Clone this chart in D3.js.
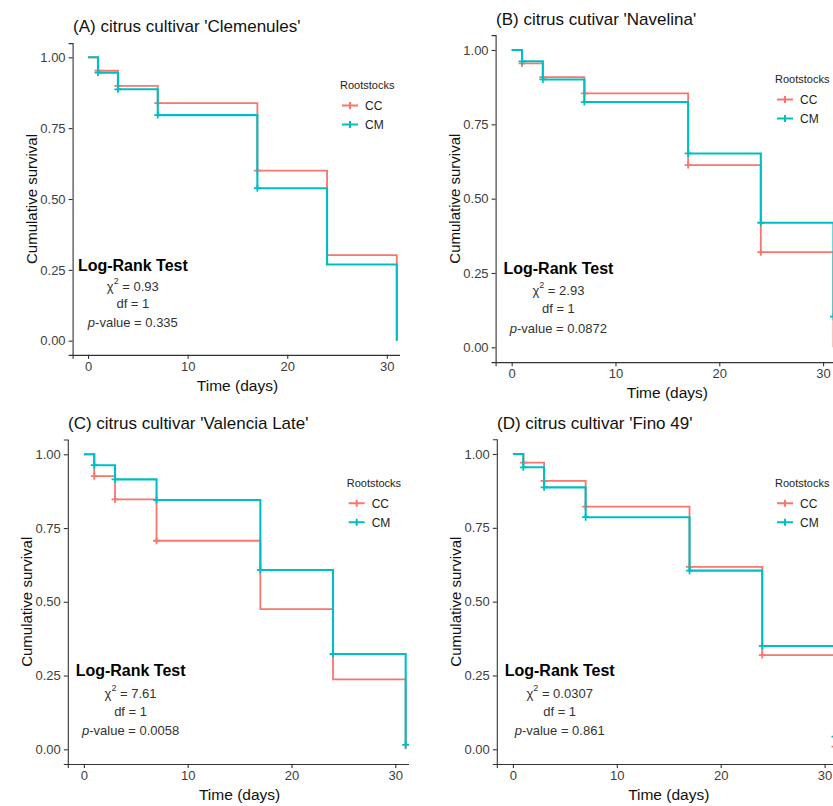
<!DOCTYPE html>
<html>
<head>
<meta charset="utf-8">
<script src="https://cdn.jsdelivr.net/npm/d3@7/dist/d3.min.js"></script>
<style>
  body { margin: 0; background: #fff; }
  svg { font-family: "Liberation Sans", Arial, sans-serif; }
</style>
</head>
<body>
<svg id="chart" width="833" height="806"></svg>
<script>
"use strict";

// event times shared by every panel
const times = [0, 1, 3, 7, 17, 24, 31];
const groups = ["CC", "CM"];
const colors = { "CC": "#F8766D", "CM": "#00BFC4" };
const yTicks = [0, 0.25, 0.5, 0.75, 1];
const xTicks = [0, 10, 20, 30];

const titles = [
    "(A) citrus cultivar 'Clemenules'",
    "(B) citrus cutivar 'Navelina'",
    "(C) citrus cultivar 'Valencia Late'",
    "(D) citrus cultivar 'Fino 49'"
];

// survival estimates
const survCC = [
    [1, 0.953, 0.899, 0.838, 0.600, 0.302, 0],
    [1, 0.955, 0.909, 0.854, 0.613, 0.320, 0],
    [1, 0.926, 0.847, 0.707, 0.475, 0.237, 0],
    [1, 0.971, 0.909, 0.822, 0.618, 0.319, 0.009]
];
const survCM = [
    [1, 0.946, 0.887, 0.796, 0.538, 0.269, 0],
    [1, 0.962, 0.901, 0.825, 0.652, 0.419, 0.103],
    [1, 0.963, 0.915, 0.845, 0.608, 0.323, 0.015],
    [1, 0.955, 0.887, 0.786, 0.605, 0.350, 0.043]
];
// times where a "+" censor mark sits
const censorCC = [[1, 3, 7, 17], [1, 3, 7, 17, 24], [1, 3, 7], [1, 3, 7, 17, 24, 31]];
const censorCM = [[1, 3, 7, 17], [1, 3, 7, 17, 24, 31], [1, 3, 7, 17, 24, 31], [1, 3, 7, 17, 24, 31]];

const chiSq = ["0.93", "2.93", "7.61", "0.0307"];
const pValues = ["0.335", "0.0872", "0.0058", "0.861"];

// panel geometry (pixels)
const panels = [
    { left: 72.6, perDay: 9.96, y0: 340.7, unit: 283.4, crop: 400, title: [73, 32], legend: [340, 89] },
    { left: 495.6, perDay: 10.38, y0: 347.3, unit: 297.3, crop: 840, title: [496, 25], legend: [775, 83] },
    { left: 67.8, perDay: 10.38, y0: 749.3, unit: 295, crop: 409, title: [68, 429], legend: [346.7, 486.7] },
    { left: 496.8, perDay: 10.39, y0: 749.3, unit: 295.3, crop: 840, title: [497, 429], legend: [775, 486.7] }
];

const svg = d3.select("#chart");

panels.forEach((p, i) => {
    let xScale = d3.scaleLinear()
        .domain([-1.55, 32.55])
        .range([p.left, p.left + 34.1 * p.perDay]);
    let yScale = d3.scaleLinear()
        .domain([-0.05, 1.05])
        .range([p.y0 + 0.05 * p.unit, p.y0 - 1.05 * p.unit]);

    let g = svg.append("g").attr("class", "panel");

    g.append("clipPath").attr("id", "clip" + i)
        .append("rect")
        .attr("x", 0).attr("y", 0)
        .attr("width", p.crop).attr("height", 806);

    let body = g.append("g").attr("clip-path", `url(#clip${i})`);

    // axes
    let xAxis = d3.axisBottom(xScale).tickValues(xTicks).tickSizeOuter(0).tickSize(4).tickPadding(3);
    let yAxis = d3.axisLeft(yScale).tickValues(yTicks).tickSizeOuter(0).tickSize(4).tickPadding(3)
        .tickFormat(d3.format(".2f"));
    let xa = body.append("g")
        .attr("transform", `translate(0,${yScale.range()[0]})`)
        .call(xAxis);
    let ya = body.append("g")
        .attr("transform", `translate(${p.left},0)`)
        .call(yAxis);
    [xa, ya].forEach(a => {
        a.select(".domain").attr("stroke", "#333").attr("stroke-width", 1.1);
        a.selectAll(".tick line").attr("stroke", "#333").attr("stroke-width", 1.1);
        a.selectAll(".tick text").attr("fill", "#3d3d3d").style("font-size", "13px");
    });

    // curves
    let line = d3.line()
        .x(d => xScale(d[0]))
        .y(d => yScale(d[1]))
        .curve(d3.curveStepAfter);

    let series = { "CC": survCC[i], "CM": survCM[i] };
    let censors = { "CC": censorCC[i], "CM": censorCM[i] };

    groups.forEach(grp => {
        let pts = times.map((t, k) => [t, series[grp][k]]);
        body.append("path")
            .datum(pts)
            .attr("d", line)
            .attr("fill", "none")
            .attr("stroke", colors[grp])
            .attr("stroke-width", grp == "CM" ? 2.1 : 1.8);
        body.selectAll("path.mark" + grp)
            .data(censors[grp])
            .enter()
            .append("path")
            .attr("class", "mark" + grp)
            .attr("d", t => {
                let cx = xScale(t), cy = yScale(series[grp][times.indexOf(t)]);
                return `M${cx - 3.5},${cy}H${cx + 3.5}M${cx},${cy - 3.5}V${cy + 3.5}`;
            })
            .attr("stroke", colors[grp])
            .attr("stroke-width", 1.8);
    });

    // titles
    g.append("text")
        .attr("x", p.title[0]).attr("y", p.title[1])
        .style("font-size", "17px")
        .attr("fill", "#111")
        .text(titles[i]);

    let midY = (yScale.range()[0] + yScale.range()[1]) / 2;
    g.append("text")
        .attr("transform", `translate(${p.left - 36},${midY}) rotate(-90)`)
        .attr("text-anchor", "middle")
        .style("font-size", "15px")
        .attr("fill", "#111")
        .text("Cumulative survival");

    g.append("text")
        .attr("x", xScale(15)).attr("y", yScale.range()[0] + 36)
        .attr("text-anchor", "middle")
        .style("font-size", "15.5px")
        .attr("fill", "#111")
        .text("Time (days)");

    // log-rank annotation
    let ax = xScale(4.5);
    g.append("text")
        .attr("x", ax).attr("y", yScale(0.247))
        .attr("text-anchor", "middle")
        .style("font-size", "16px").style("font-weight", "bold")
        .attr("fill", "#000")
        .text("Log-Rank Test");
    let chi = g.append("text")
        .attr("x", ax).attr("y", yScale(0.175))
        .attr("text-anchor", "middle")
        .style("font-size", "13px")
        .attr("fill", "#333");
    chi.append("tspan").text("χ");
    chi.append("tspan").attr("dy", -7).style("font-size", "9px").text("2");
    chi.append("tspan").attr("dy", 7).text(" = " + chiSq[i]);
    g.append("text")
        .attr("x", ax).attr("y", yScale(0.114))
        .attr("text-anchor", "middle")
        .style("font-size", "13px")
        .attr("fill", "#333")
        .text("df = 1");
    let pv = g.append("text")
        .attr("x", ax).attr("y", yScale(0.048))
        .attr("text-anchor", "middle")
        .style("font-size", "13px")
        .attr("fill", "#333");
    pv.append("tspan").style("font-style", "italic").text("p");
    pv.append("tspan").text("-value = " + pValues[i]);

    // legend
    let lg = g.append("g").attr("transform", `translate(${p.legend[0]},${p.legend[1]})`);
    lg.append("text")
        .style("font-size", "11px")
        .attr("fill", "#222")
        .text("Rootstocks");
    groups.forEach((grp, k) => {
        let ky = 16.5 + k * 19;
        lg.append("path")
            .attr("d", `M2,${ky}H18M10,${ky - 3.5}V${ky + 3.5}`)
            .attr("stroke", colors[grp])
            .attr("stroke-width", 2);
        lg.append("text")
            .attr("x", 25).attr("y", ky + 4.5)
            .style("font-size", "12px")
            .attr("fill", "#222")
            .text(grp);
    });
});
</script>
</body>
</html>
